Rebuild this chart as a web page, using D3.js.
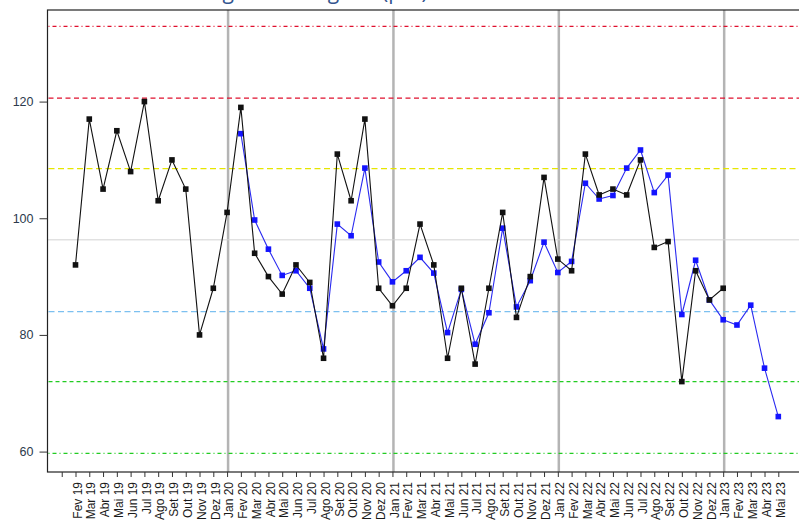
<!DOCTYPE html>
<html>
<head>
<meta charset="utf-8">
<script src="https://cdn.jsdelivr.net/npm/d3@7"></script>
<style>
  html, body { margin: 0; padding: 0; background: #fff; }
  svg { display: block; font-family: "Liberation Sans", Arial, sans-serif; }
</style>
</head>
<body>
<svg id="chart" width="799" height="527"></svg>
<script>
// ---- data ----
const months = ["Fev 19","Mar 19","Abr 19","Mai 19","Jun 19","Jul 19","Ago 19","Set 19","Out 19","Nov 19","Dez 19","Jan 20",
  "Fev 20","Mar 20","Abr 20","Mai 20","Jun 20","Jul 20","Ago 20","Set 20","Out 20","Nov 20","Dez 20","Jan 21",
  "Fev 21","Mar 21","Abr 21","Mai 21","Jun 21","Jul 21","Ago 21","Set 21","Out 21","Nov 21","Dez 21","Jan 22",
  "Fev 22","Mar 22","Abr 22","Mai 22","Jun 22","Jul 22","Ago 22","Set 22","Out 22","Nov 22","Dez 22","Jan 23",
  "Fev 23","Mar 23","Abr 23","Mai 23"];
const blackStart = 0;   // Fev 19
const blackValues = [92,117,105,115,108,120,103,110,105,80,88,101,
  119,94,90,87,92,89,76,111,103,117,88,85,
  88,99,92,76,88,75,88,101,83,90,107,93,
  91,111,104,105,104,110,95,96,72,91,86,88];
const blueStart = 12;   // Fev 20
const blueValues = [114.5,99.7,94.7,90.2,91,88,77.6,99,97,108.6,92.5,89.1,
  91,93.3,90.6,80.4,87.8,78.4,83.8,98.3,84.8,89.3,95.9,90.7,
  92.6,106,103.3,103.9,108.6,111.7,104.4,107.4,83.5,92.8,86,82.6,
  81.7,85.1,74.3,66];
const yTicks = [60, 80, 100, 120];
const yearStarts = ["Jan 20","Jan 21","Jan 22","Jan 23"];
const centerLine = 96.3;
const refLines = [
  {v: 132.9, color: "#e0102e", dash: "1,3,4,3"},
  {v: 120.6, color: "#e0102e", dash: "5,3.5"},
  {v: 108.5, color: "#e6e600", dash: "6,3.5"},
  {v: 84.0,  color: "#7cc0f0", dash: "6,3.5"},
  {v: 72.0,  color: "#22cc22", dash: "4,3"},
  {v: 59.7,  color: "#22cc22", dash: "1,3,4,3"}
];
const titleText = "Carga horária geral (p/d)";

// ---- layout ----
const svg = d3.select("#chart");
const mLeft = 47.5, mTop = 10, mBottom = 472, mRight = 810;

const x = d3.scaleLinear().domain([0, 51]).range([75.5, 778.3]);
const y = d3.scaleLinear().domain([56.5, 135.7]).range([mBottom, mTop]);

// title (mostly cut off at top, as in the reference)
svg.append("text")
  .attr("x", 189).attr("y", -1.5)
  .attr("font-family", "'Open Sans', sans-serif")
  .attr("font-size", 21)
  .attr("fill", "#34558f")
  .text(titleText);

// vertical year lines
svg.append("g").selectAll("line").data(yearStarts).join("line")
  .attr("x1", d => x(months.indexOf(d)) + 1).attr("x2", d => x(months.indexOf(d)) + 1)
  .attr("y1", mTop).attr("y2", mBottom)
  .attr("stroke", "#b4b4b4").attr("stroke-width", 2.5);

// center line
svg.append("line")
  .attr("x1", mLeft).attr("x2", mRight)
  .attr("y1", y(centerLine)).attr("y2", y(centerLine))
  .attr("stroke", "#d2d2d2").attr("stroke-width", 1);

// reference lines
svg.append("g").selectAll("line").data(refLines).join("line")
  .attr("x1", mLeft + 1).attr("x2", mRight)
  .attr("y1", d => y(d.v)).attr("y2", d => y(d.v))
  .attr("stroke", d => d.color)
  .attr("stroke-width", 1.4)
  .attr("stroke-dasharray", d => d.dash);

// series
function drawSeries(values, start, color, mcolor) {
  const pts = values.map((v, i) => ({i: i + start, v}));
  const line = d3.line().x(d => x(d.i)).y(d => y(d.v));
  svg.append("path").datum(pts)
    .attr("d", line)
    .attr("fill", "none")
    .attr("stroke", color)
    .attr("stroke-width", 1.1);
  svg.append("g").selectAll("rect").data(pts).join("rect")
    .attr("x", d => x(d.i) - 2.8).attr("y", d => y(d.v) - 2.8)
    .attr("width", 5.6).attr("height", 5.6)
    .attr("fill", mcolor);
}
drawSeries(blueValues, blueStart, "#2a2af0", "#1414ff");
drawSeries(blackValues, blackStart, "#111", "#111");

// frame
svg.append("rect")
  .attr("x", mLeft).attr("y", mTop)
  .attr("width", mRight - mLeft).attr("height", mBottom - mTop)
  .attr("fill", "none").attr("stroke", "#222").attr("stroke-width", 1.2);

// y axis
const yAxis = svg.append("g")
  .attr("transform", `translate(${mLeft},0)`)
  .call(d3.axisLeft(y).tickValues(yTicks).tickSize(8).tickPadding(6));
yAxis.select(".domain").remove();
yAxis.selectAll("line").attr("stroke", "#333");
yAxis.selectAll("text")
  .attr("font-size", 12.5)
  .attr("font-family", "'Liberation Sans', Arial, sans-serif")
  .attr("fill", "#2c3a4c");

// x axis
const xAxis = svg.append("g")
  .attr("transform", `translate(0,${mBottom})`)
  .call(d3.axisBottom(x)
    .tickValues(d3.range(-1, 52))
    .tickFormat(i => i >= 0 ? months[i] : "")
    .tickSize(5));
xAxis.select(".domain").remove();
xAxis.selectAll("line").attr("stroke", "#333");
xAxis.selectAll("text")
  .attr("font-size", 12)
  .attr("font-family", "'Liberation Sans', Arial, sans-serif")
  .attr("fill", "#1a1a1a")
  .attr("text-anchor", "end")
  .attr("transform", "translate(1.5,10) rotate(-90)")
  .attr("x", 0).attr("y", 0)
  .attr("dy", "0.35em");
</script>
</body>
</html>
